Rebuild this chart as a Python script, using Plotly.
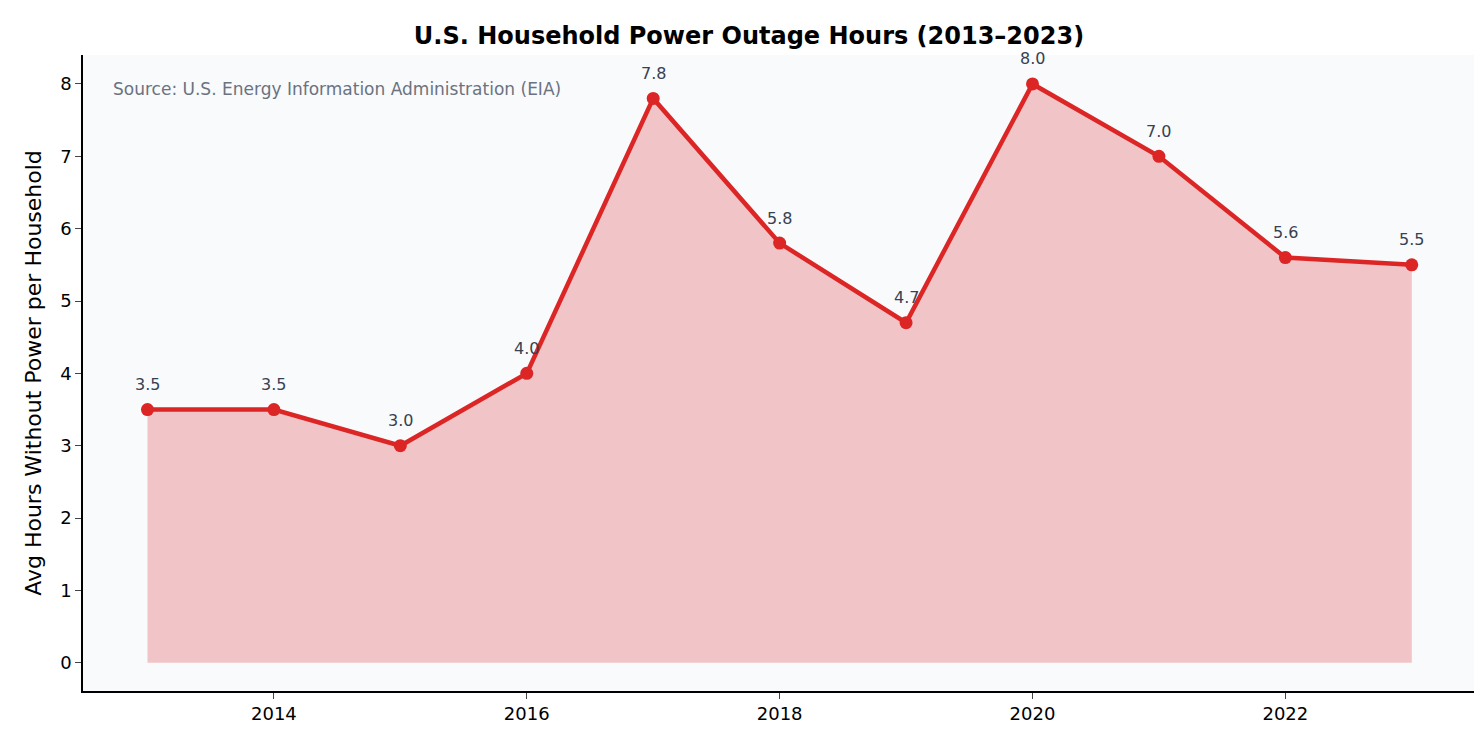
import plotly.graph_objects as go

years = list(range(2013, 2024))
hours = [3.5, 3.5, 3.0, 4.0, 7.8, 5.8, 4.7, 8.0, 7.0, 5.6, 5.5]
labels = [f"{h:.1f}" for h in hours]

fig = go.Figure()

# filled area under the line
fig.add_trace(go.Scatter(
    x=years, y=hours, fill='tozeroy', mode='lines',
    line=dict(color='rgba(220,38,38,0.3)', width=1.5),
    fillcolor='rgba(220,38,38,0.25)', hoverinfo='skip', showlegend=False
))

# main line with markers
fig.add_trace(go.Scatter(
    x=years, y=hours, mode='lines+markers',
    line=dict(color='#dc2626', width=4.5),
    marker=dict(color='#dc2626', size=13),
    showlegend=False
))

# value labels
for x, y, t in zip(years, hours, labels):
    fig.add_annotation(x=x, y=y, text=t, showarrow=False, yshift=25,
                       font=dict(family='DejaVu Sans', size=16, color='#374151'))

fig.add_annotation(
    x=0.02, y=0.965, xref='paper', yref='paper', xanchor='left', yanchor='top',
    text='Source: U.S. Energy Information Administration (EIA)', showarrow=False,
    font=dict(family='DejaVu Sans', size=17, color='#6b7280')
)

fig.update_layout(
    width=1482, height=733,
    title=dict(text='<b>U.S. Household Power Outage Hours (2013–2023)</b>',
               x=0.5, xanchor='center', y=0.963, yanchor='middle',
               font=dict(family='DejaVu Sans', size=24, color='black')),
    paper_bgcolor='white', plot_bgcolor='#f8fafc',
    margin=dict(l=75, r=15, t=47, b=50),
    font=dict(family='DejaVu Sans', size=18, color='black'),
    xaxis=dict(range=[2012.49, 2023.5], tickvals=[2014, 2016, 2018, 2020, 2022],
               showgrid=False, zeroline=False, showline=True, linecolor='black',
               linewidth=1.5, ticks='outside', ticklen=6, automargin=False),
    yaxis=dict(range=[-0.39, 8.4], tickvals=list(range(0, 9)),
               title=dict(text='Avg Hours Without Power per Household',
                          font=dict(size=22), standoff=12),
               showgrid=False, zeroline=False, showline=True, linecolor='black',
               linewidth=1.5, ticks='outside', ticklen=6, automargin=False),
)

fig.write_html("out.html")
